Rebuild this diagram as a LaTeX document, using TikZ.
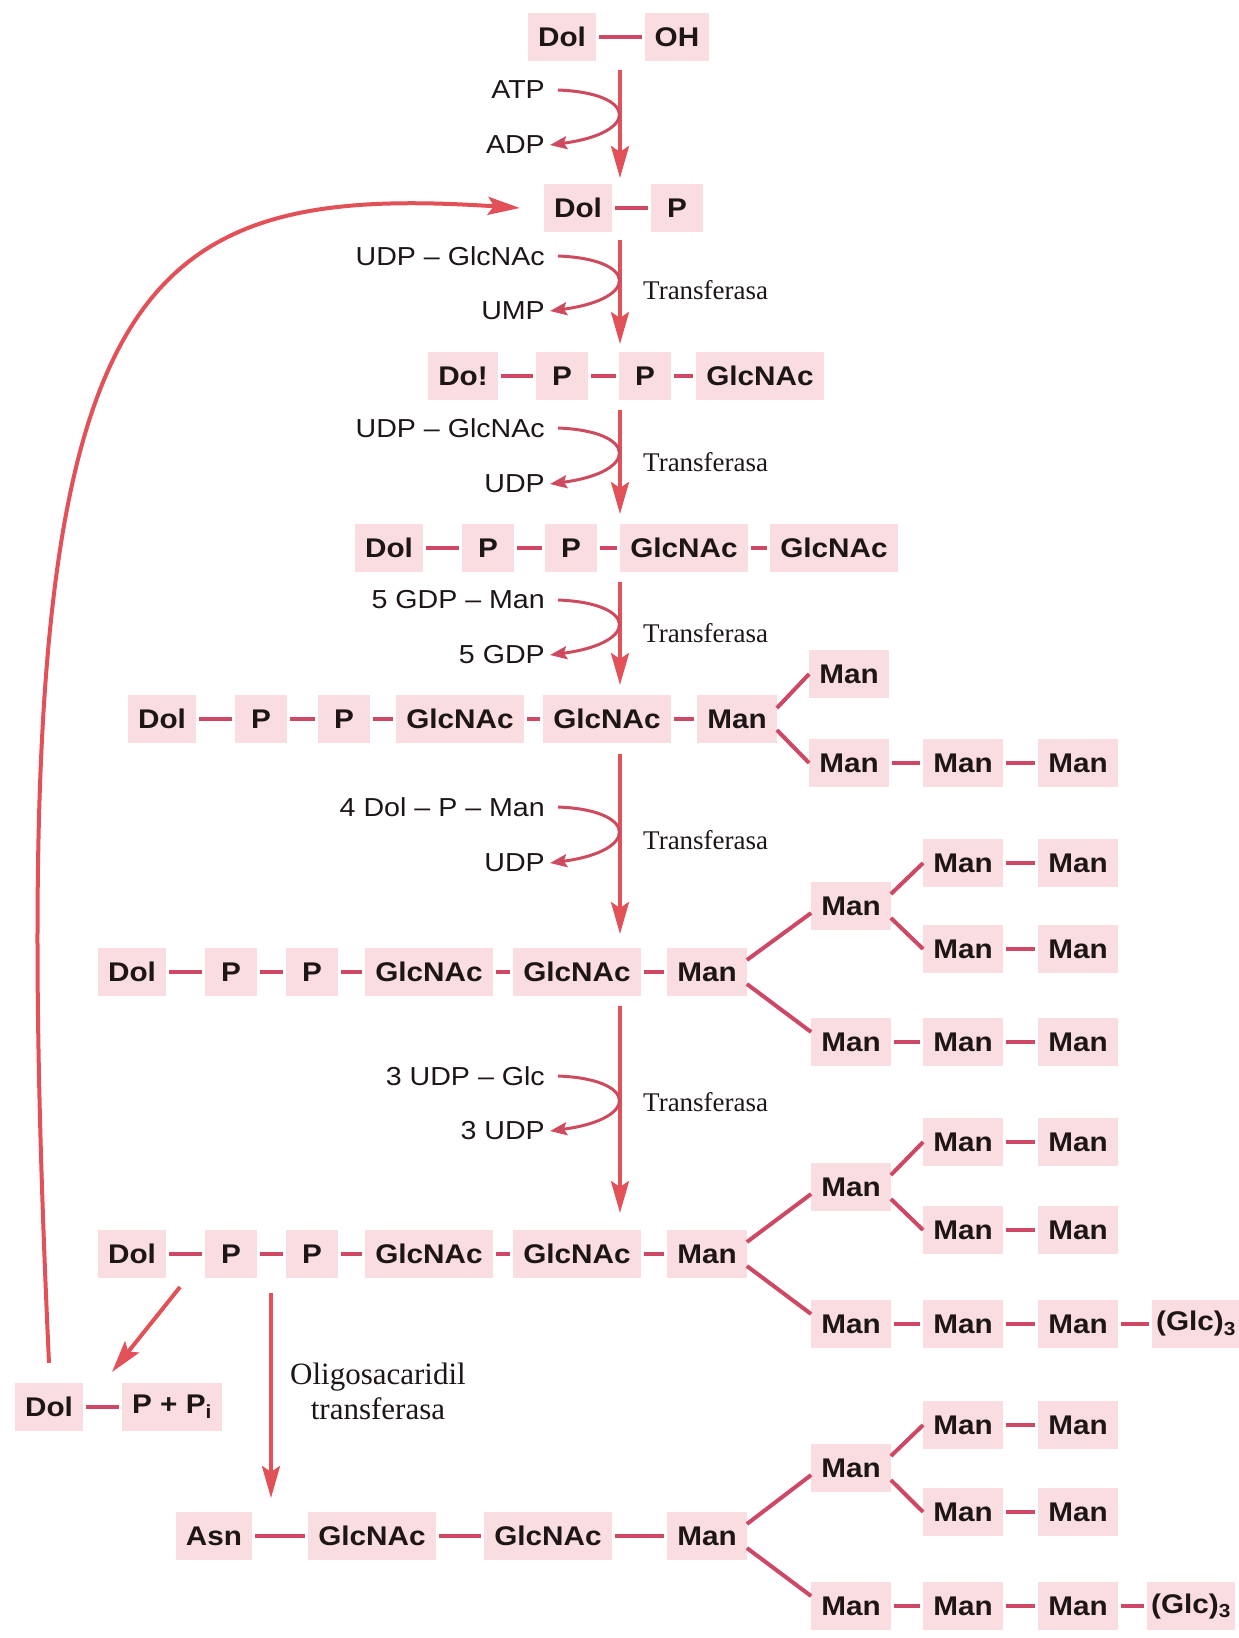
\documentclass[tikz,border=0pt]{standalone}
\usepackage{fontspec}
\usetikzlibrary{arrows.meta}
\newfontfamily\bsans[FakeStretch=1.1]{Liberation Sans}
\newfontfamily\serifT{Liberation Serif}
\definecolor{boxpink}{RGB}{249,221,224}
\definecolor{bondc}{RGB}{206,72,102}
\definecolor{arrc}{RGB}{226,80,88}
\definecolor{curvc}{RGB}{205,75,95}
\definecolor{txt}{RGB}{30,22,22}
\newcommand{\boxfont}{\bsans\bfseries\fontsize{27}{30}\selectfont}
\newcommand{\reagfont}{\bsans\fontsize{26}{30}\selectfont}
\newcommand{\enzfont}{\serifT\fontsize{27}{30}\selectfont}
\newcommand{\oligofont}{\serifT\fontsize{31}{35}\selectfont}
\tikzset{
  box/.style={fill=boxpink, text=txt, font=\boxfont, inner xsep=10pt, inner ysep=0pt, minimum height=48pt, minimum width=52pt},
  bond/.style={draw=bondc, line width=4pt, shorten <=3pt, shorten >=3pt},
  branch/.style={draw=bondc, line width=4pt},
  mainarrow/.style={draw=arrc, line width=4pt, -{Stealth[length=32pt,width=18pt,inset=6pt]}},
  curvarrow/.style={draw=curvc, line width=3pt, -{Stealth[length=17pt,width=13pt,inset=3pt]}},
  reag/.style={font=\reagfont, text=txt, anchor=east, inner sep=0pt},
  enz/.style={font=\enzfont, text=txt, anchor=west, inner sep=0pt},
}
\begin{document}
\begin{tikzpicture}[x=1pt,y=-1pt]
\useasboundingbox[fill=white] (0,0) rectangle (1239,1638);

% Row 0
\node[box] (r0d) at (562,37) {Dol};
\node[box] (r0oh) at (677,37) {OH};
\draw[bond] (r0d) -- (r0oh);
% Row 1
\node[box] (r1d) at (578,208) {Dol};
\node[box] (r1p) at (677,208) {P};
\draw[bond] (r1d) -- (r1p);
% Row 2
\node[box] (r2d) at (463,376) {Do!};
\node[box] (r2p1) at (562,376) {P};
\node[box] (r2p2) at (645,376) {P};
\node[box] (r2g1) at (760,376) {GlcNAc};
\draw[bond] (r2d) -- (r2p1);
\draw[bond] (r2p1) -- (r2p2);
\draw[bond] (r2p2) -- (r2g1);
% Row 3
\node[box] (r3d) at (389,548) {Dol};
\node[box] (r3p1) at (488,548) {P};
\node[box] (r3p2) at (571,548) {P};
\node[box] (r3g1) at (684,548) {GlcNAc};
\node[box] (r3g2) at (834,548) {GlcNAc};
\draw[bond] (r3d) -- (r3p1);
\draw[bond] (r3p1) -- (r3p2);
\draw[bond] (r3p2) -- (r3g1);
\draw[bond] (r3g1) -- (r3g2);
% Row 4
\node[box] (r4d) at (162,719) {Dol};
\node[box] (r4p1) at (261,719) {P};
\node[box] (r4p2) at (344,719) {P};
\node[box] (r4g1) at (460,719) {GlcNAc};
\node[box] (r4g2) at (607,719) {GlcNAc};
\node[box] (r4m) at (737,719) {Man};
\node[box] (r4a) at (849,674) {Man};
\node[box] (r4b1) at (849,763) {Man};
\node[box] (r4b2) at (963,763) {Man};
\node[box] (r4b3) at (1078,763) {Man};
\draw[bond] (r4d) -- (r4p1);
\draw[bond] (r4p1) -- (r4p2);
\draw[bond] (r4p2) -- (r4g1);
\draw[bond] (r4g1) -- (r4g2);
\draw[bond] (r4g2) -- (r4m);
\draw[branch] ([yshift=11pt]r4m.east) -- (r4a.west);
\draw[branch] ([yshift=-11pt]r4m.east) -- (r4b1.west);
\draw[bond] (r4b1) -- (r4b2);
\draw[bond] (r4b2) -- (r4b3);
% Row 5
\node[box] (r5d) at (132,972) {Dol};
\node[box] (r5p1) at (231,972) {P};
\node[box] (r5p2) at (312,972) {P};
\node[box] (r5g1) at (429,972) {GlcNAc};
\node[box] (r5g2) at (577,972) {GlcNAc};
\node[box] (r5m) at (707,972) {Man};
\node[box] (r5bm) at (851,906) {Man};
\node[box] (r5u1) at (963,863) {Man};
\node[box] (r5u2) at (1078,863) {Man};
\node[box] (r5v1) at (963,949) {Man};
\node[box] (r5v2) at (1078,949) {Man};
\node[box] (r5l1) at (851,1042) {Man};
\node[box] (r5l2) at (963,1042) {Man};
\node[box] (r5l3) at (1078,1042) {Man};
\draw[bond] (r5d) -- (r5p1);
\draw[bond] (r5p1) -- (r5p2);
\draw[bond] (r5p2) -- (r5g1);
\draw[bond] (r5g1) -- (r5g2);
\draw[bond] (r5g2) -- (r5m);
\draw[branch] ([yshift=12pt]r5m.east) -- ([yshift=-7pt]r5bm.west);
\draw[branch] ([yshift=-12pt]r5m.east) -- ([yshift=10pt]r5l1.west);
\draw[branch] ([yshift=12pt]r5bm.east) -- (r5u1.west);
\draw[branch] ([yshift=-12pt]r5bm.east) -- (r5v1.west);
\draw[bond] (r5u1) -- (r5u2);
\draw[bond] (r5v1) -- (r5v2);
\draw[bond] (r5l1) -- (r5l2);
\draw[bond] (r5l2) -- (r5l3);
% Row 6
\node[box] (r6d) at (132,1254) {Dol};
\node[box] (r6p1) at (231,1254) {P};
\node[box] (r6p2) at (312,1254) {P};
\node[box] (r6g1) at (429,1254) {GlcNAc};
\node[box] (r6g2) at (577,1254) {GlcNAc};
\node[box] (r6m) at (707,1254) {Man};
\node[box] (r6bm) at (851,1187) {Man};
\node[box] (r6u1) at (963,1142) {Man};
\node[box] (r6u2) at (1078,1142) {Man};
\node[box] (r6v1) at (963,1230) {Man};
\node[box] (r6v2) at (1078,1230) {Man};
\node[box] (r6l1) at (851,1324) {Man};
\node[box] (r6l2) at (963,1324) {Man};
\node[box] (r6l3) at (1078,1324) {Man};
\node[box, inner xsep=4pt] (r6glc) at (1196,1324) {(Glc)\textsubscript{3}};
\draw[bond] (r6d) -- (r6p1);
\draw[bond] (r6p1) -- (r6p2);
\draw[bond] (r6p2) -- (r6g1);
\draw[bond] (r6g1) -- (r6g2);
\draw[bond] (r6g2) -- (r6m);
\draw[branch] ([yshift=12pt]r6m.east) -- ([yshift=-7pt]r6bm.west);
\draw[branch] ([yshift=-12pt]r6m.east) -- ([yshift=10pt]r6l1.west);
\draw[branch] ([yshift=12pt]r6bm.east) -- (r6u1.west);
\draw[branch] ([yshift=-12pt]r6bm.east) -- (r6v1.west);
\draw[bond] (r6u1) -- (r6u2);
\draw[bond] (r6v1) -- (r6v2);
\draw[bond] (r6l1) -- (r6l2);
\draw[bond] (r6l2) -- (r6l3);
\draw[bond] (r6l3) -- (r6glc);
% Dol-P + Pi
\node[box] (dpd) at (49,1407) {Dol};
\node[box] (dpp) at (172,1407) {P + P\textsubscript{i}};
\draw[bond] (dpd) -- (dpp);
% Row 7
\node[box] (r7a) at (214,1536) {Asn};
\node[box] (r7g1) at (372,1536) {GlcNAc};
\node[box] (r7g2) at (548,1536) {GlcNAc};
\node[box] (r7m) at (707,1536) {Man};
\node[box] (r7bm) at (851,1468) {Man};
\node[box] (r7u1) at (963,1425) {Man};
\node[box] (r7u2) at (1078,1425) {Man};
\node[box] (r7v1) at (963,1512) {Man};
\node[box] (r7v2) at (1078,1512) {Man};
\node[box] (r7l1) at (851,1606) {Man};
\node[box] (r7l2) at (963,1606) {Man};
\node[box] (r7l3) at (1078,1606) {Man};
\node[box, inner xsep=4pt] (r7glc) at (1191,1606) {(Glc)\textsubscript{3}};
\draw[bond] (r7a) -- (r7g1);
\draw[bond] (r7g1) -- (r7g2);
\draw[bond] (r7g2) -- (r7m);
\draw[branch] ([yshift=12pt]r7m.east) -- ([yshift=-7pt]r7bm.west);
\draw[branch] ([yshift=-12pt]r7m.east) -- ([yshift=10pt]r7l1.west);
\draw[branch] ([yshift=12pt]r7bm.east) -- (r7u1.west);
\draw[branch] ([yshift=-12pt]r7bm.east) -- (r7v1.west);
\draw[bond] (r7u1) -- (r7u2);
\draw[bond] (r7v1) -- (r7v2);
\draw[bond] (r7l1) -- (r7l2);
\draw[bond] (r7l2) -- (r7l3);
\draw[bond] (r7l3) -- (r7glc);

% Main vertical arrows
\coordinate (a1s) at (620,70);   \coordinate (a1e) at (620,178);
\coordinate (a2s) at (620,240);  \coordinate (a2e) at (620,344);
\coordinate (a3s) at (620,410);  \coordinate (a3e) at (620,514);
\coordinate (a4s) at (620,582);  \coordinate (a4e) at (620,685);
\coordinate (a5s) at (620,754);  \coordinate (a5e) at (620,934);
\coordinate (a6s) at (620,1006); \coordinate (a6e) at (620,1213);
\foreach \i in {1,...,6} {\draw[mainarrow] (a\i s) -- (a\i e);}

% Reagents and products
\node[reag] (q1) at (545,90) {ATP};
\node[reag] (z1) at (545,145) {ADP};
\node[reag] (q2) at (545,256) {UDP – GlcNAc};
\node[reag] (z2) at (545,311) {UMP};
\node[reag] (q3) at (545,428) {UDP – GlcNAc};
\node[reag] (z3) at (545,484) {UDP};
\node[reag] (q4) at (545,600) {5 GDP – Man};
\node[reag] (z4) at (545,655) {5 GDP};
\node[reag] (q5) at (545,807) {4 Dol – P – Man};
\node[reag] (z5) at (545,863) {UDP};
\node[reag] (q6) at (545,1076) {3 UDP – Glc};
\node[reag] (z6) at (545,1131) {3 UDP};
\foreach \i in {1,...,6} {
  \draw[curvarrow] ([xshift=13pt]q\i.east) .. controls +(80,3) and +(90,-12) .. ([xshift=5pt]z\i.east);
}
% Enzyme labels
\node[enz] (t2) at (643,290) {Transferasa};
\node[enz] (t3) at (643,462) {Transferasa};
\node[enz] (t4) at (643,633) {Transferasa};
\node[enz] (t5) at (643,840) {Transferasa};
\node[enz] (t6) at (643,1102) {Transferasa};

% Release of Dol-P
\coordinate (ds) at (180,1287);
\coordinate (de) at (112,1372);
\draw[mainarrow] (ds) -- (de);
% Oligosaccharyl transferase
\coordinate (os) at (271,1293);
\coordinate (oe) at (271,1498);
\draw[mainarrow] (os) -- (oe);
\node[font=\oligofont, text=txt, align=center, inner sep=0pt] (olab) at (378,1391) {Oligosacaridil\\transferasa};

% Recycling arrow
\draw[mainarrow] ([yshift=20pt]dpd.north) .. controls (0,300) and (100,180) .. ([xshift=-24pt]r1d.west);
\end{tikzpicture}
\end{document}
